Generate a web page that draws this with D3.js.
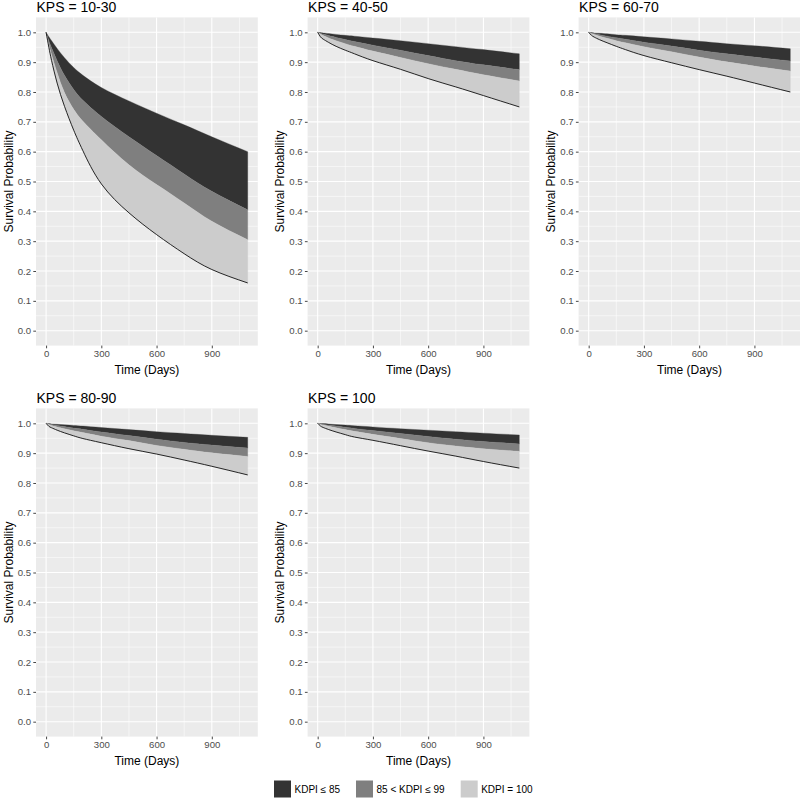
<!DOCTYPE html>
<html>
<head>
<meta charset="utf-8">
<script src="https://cdn.jsdelivr.net/npm/d3@7"></script>
<style>
  html, body { margin: 0; padding: 0; background: #ffffff; }
  svg { display: block; font-family: "Liberation Sans", Arial, sans-serif; }
</style>
</head>
<body>
<svg id="chart" width="800" height="799"></svg>
<script>
// ---------------- DATA ----------------
const panelTitles = ["KPS = 10-30", "KPS = 40-50", "KPS = 60-70", "KPS = 80-90", "KPS = 100"];
const timeDays = [0, 15, 30, 60, 100, 150, 200, 300, 450, 600, 750, 900, 1095];

// Upper edge of the KDPI ≤ 85 band
const curveTop = [
  [1, 0.985, 0.972, 0.946, 0.915, 0.882, 0.856, 0.815, 0.770, 0.729, 0.690, 0.650, 0.600],
  [1, 0.999, 0.998, 0.996, 0.993, 0.990, 0.987, 0.981, 0.972, 0.962, 0.952, 0.942, 0.928],
  [1, 0.999, 0.998, 0.997, 0.995, 0.992, 0.990, 0.985, 0.978, 0.970, 0.962, 0.955, 0.945],
  [1, 0.999, 0.998, 0.997, 0.995, 0.993, 0.991, 0.986, 0.979, 0.972, 0.966, 0.960, 0.953],
  [1, 0.999, 0.999, 0.998, 0.996, 0.994, 0.992, 0.988, 0.982, 0.977, 0.972, 0.967, 0.961]
];
// Boundary between KDPI ≤ 85 and 85 < KDPI ≤ 99
const curveB1 = [
  [1, 0.972, 0.948, 0.905, 0.856, 0.808, 0.772, 0.718, 0.650, 0.587, 0.525, 0.467, 0.405],
  [1, 0.997, 0.994, 0.989, 0.983, 0.976, 0.969, 0.957, 0.940, 0.922, 0.905, 0.891, 0.875],
  [1, 0.998, 0.996, 0.992, 0.987, 0.982, 0.977, 0.967, 0.954, 0.940, 0.928, 0.917, 0.904],
  [1, 0.998, 0.996, 0.993, 0.989, 0.984, 0.980, 0.971, 0.959, 0.947, 0.936, 0.927, 0.917],
  [1, 0.998, 0.997, 0.994, 0.991, 0.987, 0.983, 0.976, 0.966, 0.956, 0.947, 0.939, 0.931]
];
// Boundary between 85 < KDPI ≤ 99 and KDPI = 100
const curveB2 = [
  [1, 0.960, 0.925, 0.865, 0.798, 0.742, 0.702, 0.640, 0.556, 0.490, 0.428, 0.367, 0.305],
  [1, 0.994, 0.989, 0.981, 0.972, 0.962, 0.953, 0.937, 0.916, 0.895, 0.876, 0.858, 0.837],
  [1, 0.996, 0.993, 0.987, 0.980, 0.972, 0.965, 0.952, 0.935, 0.917, 0.901, 0.887, 0.870],
  [1, 0.996, 0.993, 0.988, 0.982, 0.975, 0.969, 0.957, 0.942, 0.926, 0.913, 0.901, 0.889],
  [1, 0.997, 0.994, 0.990, 0.985, 0.979, 0.973, 0.963, 0.949, 0.935, 0.924, 0.915, 0.906]
];
// Lower edge of the KDPI = 100 band (black line)
const curveBottom = [
  [1, 0.950, 0.905, 0.830, 0.752, 0.672, 0.603, 0.492, 0.395, 0.322, 0.258, 0.205, 0.160],
  [1, 0.985, 0.977, 0.966, 0.953, 0.940, 0.928, 0.905, 0.876, 0.845, 0.817, 0.788, 0.750],
  [1, 0.990, 0.984, 0.975, 0.965, 0.953, 0.942, 0.922, 0.898, 0.875, 0.853, 0.830, 0.800],
  [1, 0.990, 0.985, 0.977, 0.968, 0.958, 0.949, 0.935, 0.915, 0.897, 0.877, 0.856, 0.827],
  [1, 0.991, 0.986, 0.979, 0.971, 0.962, 0.954, 0.943, 0.925, 0.907, 0.890, 0.872, 0.850]
];

const legendLabels = ["KDPI \u2264 85", "85 < KDPI \u2264 99", "KDPI = 100"];
const bandColors = ["#333333", "#7f7f7f", "#cccccc"];
const xTicks = [0, 300, 600, 900];
const xMinor = [150, 450, 750, 1050];
const yTicks = [0, 0.1, 0.2, 0.3, 0.4, 0.5, 0.6, 0.7, 0.8, 0.9, 1.0];
const yMinor = [0.05, 0.15, 0.25, 0.35, 0.45, 0.55, 0.65, 0.75, 0.85, 0.95];

// ---------------- LAYOUT ----------------
const svg = d3.select("#chart");
const colLeft = [36, 307.6, 578.6];
const rowTop = [17.4, 408.4];
const panelW = 221.8, panelH = 328.2;
const curveType = d3.curveNatural;

panelTitles.forEach((title, i) => {
  const col = i % 3, row = Math.floor(i / 3);
  const L = colLeft[col], T = rowTop[row];
  const x = d3.scaleLinear().domain([-54.75, 1149.75]).range([L, L + panelW]);
  const y = d3.scaleLinear().domain([-0.05, 1.05]).range([T + panelH, T]);
  const g = svg.append("g");

  g.append("rect").attr("x", L).attr("y", T).attr("width", panelW).attr("height", panelH).attr("fill", "#ebebeb");

  g.selectAll(".ymin").data(yMinor).enter().append("line")
    .attr("x1", L).attr("x2", L + panelW).attr("y1", d => y(d)).attr("y2", d => y(d))
    .attr("stroke", "#ffffff").attr("stroke-width", 0.55);
  g.selectAll(".xmin").data(xMinor).enter().append("line")
    .attr("y1", T).attr("y2", T + panelH).attr("x1", d => x(d)).attr("x2", d => x(d))
    .attr("stroke", "#ffffff").attr("stroke-width", 0.55);
  g.selectAll(".ymaj").data(yTicks).enter().append("line")
    .attr("x1", L).attr("x2", L + panelW).attr("y1", d => y(d)).attr("y2", d => y(d))
    .attr("stroke", "#ffffff").attr("stroke-width", 1.1);
  g.selectAll(".xmaj").data(xTicks).enter().append("line")
    .attr("y1", T).attr("y2", T + panelH).attr("x1", d => x(d)).attr("x2", d => x(d))
    .attr("stroke", "#ffffff").attr("stroke-width", 1.1);

  const bounds = [curveTop[i], curveB1[i], curveB2[i], curveBottom[i]];
  for (let b = 0; b < 3; b++) {
    const upper = bounds[b], lower = bounds[b + 1];
    const area = d3.area()
      .x((d, k) => x(timeDays[k]))
      .y0((d, k) => y(lower[k]))
      .y1((d, k) => y(upper[k]))
      .curve(curveType);
    g.append("path").datum(timeDays).attr("d", area)
      .attr("fill", bandColors[b]).attr("stroke", bandColors[b]).attr("stroke-width", 0.3);
  }
  const line = d3.line()
    .x((d, k) => x(timeDays[k]))
    .y((d, k) => y(curveBottom[i][k]))
    .curve(curveType);
  g.append("path").datum(timeDays).attr("d", line)
    .attr("fill", "none").attr("stroke", "#111111").attr("stroke-width", 0.9);

  const yAxis = d3.axisLeft(y).tickValues(yTicks).tickFormat(d3.format(".1f")).tickSize(2.7).tickPadding(2.2);
  const ya = g.append("g").attr("transform", `translate(${L},0)`).call(yAxis);
  ya.select(".domain").remove();
  ya.selectAll("line").attr("stroke", "#333333").attr("stroke-width", 0.9);
  ya.selectAll("text").attr("fill", "#4d4d4d").attr("font-size", 9.6).attr("font-family", "Liberation Sans, Arial, sans-serif");

  const xAxis = d3.axisBottom(x).tickValues(xTicks).tickFormat(d3.format("d")).tickSize(2.7).tickPadding(2.2);
  const xa = g.append("g").attr("transform", `translate(0,${T + panelH})`).call(xAxis);
  xa.select(".domain").remove();
  xa.selectAll("line").attr("stroke", "#333333").attr("stroke-width", 0.9);
  xa.selectAll("text").attr("fill", "#4d4d4d").attr("font-size", 9.6).attr("font-family", "Liberation Sans, Arial, sans-serif");

  g.append("text").attr("x", L + 0.5).attr("y", T - 5.5).attr("font-size", 14).attr("fill", "#000")
    .text(title);
  g.append("text").attr("x", L + panelW / 2).attr("y", T + panelH + 28.5)
    .attr("text-anchor", "middle").attr("font-size", 12).attr("fill", "#000").text("Time (Days)");
  g.append("text")
    .attr("transform", `translate(${L - 23.5},${T + panelH / 2}) rotate(-90)`)
    .attr("text-anchor", "middle").attr("font-size", 12).attr("fill", "#000").text("Survival Probability");
});

// ---------------- LEGEND ----------------
const legX = [274, 356, 460.7];
const leg = svg.append("g");
legendLabels.forEach((lab, k) => {
  leg.append("rect").attr("x", legX[k]).attr("y", 780.5).attr("width", 17).attr("height", 17)
    .attr("fill", bandColors[k]);
  leg.append("text").attr("x", legX[k] + 20.5).attr("y", 792.5).attr("font-size", 10)
    .attr("fill", "#000").text(lab);
});
</script>
</body>
</html>
